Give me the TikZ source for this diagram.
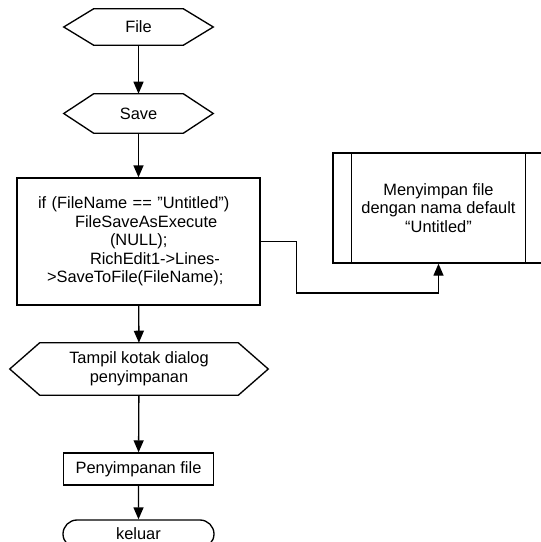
\documentclass[tikz,border=0pt]{standalone}
\usepackage{fontspec}
\setmainfont{Liberation Sans}
\usetikzlibrary{calc,arrows.meta,shapes.misc}
\def\hexa(#1)(#2){\draw[line width=1pt] (#1.west) -- ([xshift=#2]#1.north west) -- ([xshift=-#2]#1.north east) -- (#1.east) -- ([xshift=-#2]#1.south east) -- ([xshift=#2]#1.south west) -- cycle;}

\begin{document}
\begin{tikzpicture}[x=0.75pt, y=-0.75pt,
		every node/.style={font=\fontsize{12.3}{13.9}\selectfont},
		flow/.style={-{Triangle[length=9pt,width=7.5pt]}, line width=1pt},
		hexnode/.style={minimum width=111.75pt, inner sep=0pt, align=center},
		boxnode/.style={draw, line width=1pt, inner sep=0pt, align=center}]
		%%%%% START %%%%%
		\useasboundingbox (0,0) rectangle (540,542);
		
		\node[hexnode, minimum height=27pt] (file) at (138.5,27) {File};
		\hexa(file)(22.5pt)
		
		\node[hexnode, minimum height=29.25pt] (save) at (138.5,113.5) {Save};
		\hexa(save)(22.5pt)
		
		\node[boxnode, minimum width=182.25pt, minimum height=95.25pt, text width=182.25pt, align=left] (code) at (138.5,241.5)
			{\hspace*{15.75pt}if (FileName == \char34 Untitled\char34)\\
			 \hspace*{43.5pt}FileSaveAsExecute\\
			 \hspace*{69.75pt}(NULL);\\
			 \hspace*{54.75pt}RichEdit1->Lines-\\
			 \hspace*{22.5pt}>SaveToFile(FileName);};
		
		\node[boxnode, minimum width=158.25pt, minimum height=82.5pt] (store) at (438.5,208)
			{Menyimpan file\\dengan nama default\\“Untitled”};
		\draw[line width=1pt] ([xshift=14.25pt]store.north west) -- ([xshift=14.25pt]store.south west);
		\draw[line width=1pt] ([xshift=-14.25pt]store.north east) -- ([xshift=-14.25pt]store.south east);
		
		\node[hexnode, minimum width=193.5pt, minimum height=39pt] (dialog) at (139,369)
			{Tampil kotak dialog\\penyimpanan};
		\hexa(dialog)(22.5pt)
		
		\node[boxnode, minimum width=112.5pt, minimum height=24pt] (simpan) at (138.5,469) {Penyimpanan file};
		
		\node[boxnode, rounded rectangle, minimum width=113.25pt, minimum height=21pt] (keluar) at (138.5,534) {keluar};
		
		\draw[flow] (file) -- (save);
		\draw[flow] (save) -- (code);
		\draw[flow] (code.east) -- ++(36,0) |- (store.south |- 0,293) -- (store.south);
		\draw[flow] (code) -- (dialog);
		\draw[flow] (dialog) -- (simpan);
		\draw[flow] (simpan) -- (keluar);
		%%%%% END %%%%%
\end{tikzpicture}
\end{document}
